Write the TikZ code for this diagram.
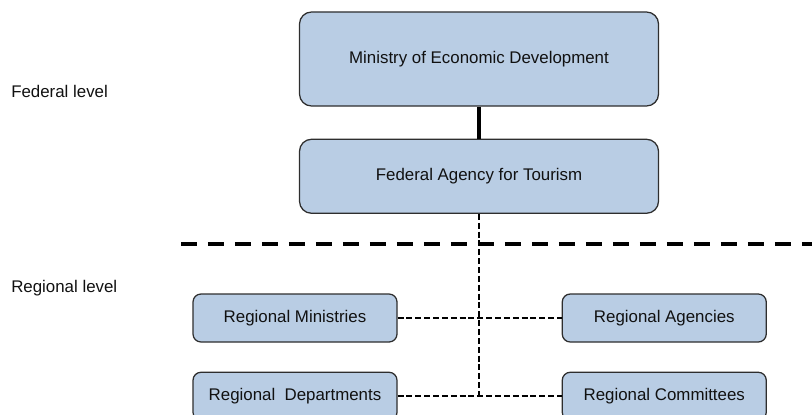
\documentclass[tikz,border=0pt]{standalone}
\usepackage{fontspec}
\setmainfont{Liberation Sans}
\usetikzlibrary{positioning,calc}
\definecolor{txt}{HTML}{111111}
\definecolor{boxF}{HTML}{B9CDE4}
\definecolor{boxB}{HTML}{2E2E2E}
\definecolor{lnB}{HTML}{000000}

\begin{document}
\begin{tikzpicture}[
  x=0.25mm,y=-0.25mm,
  font=\fontsize{12}{14}\selectfont,text=txt,
  org/.style={rounded corners=3mm,line width=0.9pt,fill=boxF,draw=boxB,align=center,inner sep=3pt,minimum width=89.75mm},
  reg/.style={org,rounded corners=2mm,minimum width=51mm,minimum height=12mm},
  lvl/.style={anchor=base west,inner sep=0pt},
  link/.style={draw=lnB,line width=1.2pt,dash pattern=on 4.2pt off 2.1pt},
  ]
\useasboundingbox (0,0) rectangle (812,414);

% ---- federal boxes ----
\node[org,minimum height=23.5mm] (min) at (479,59) {Ministry of Economic Development};
\node[org,minimum height=18.5mm,below=8mm of min] (fat) {Federal Agency for Tourism};

% ---- regional boxes ----
\node[reg] (rmin) at (295,318) {Regional Ministries};
\node[reg,right=41mm of rmin] (rag) {Regional Agencies};
\node[reg,below=7.25mm of rmin] (rdep) {Regional\ \ Departments};
\node[reg,below=7.25mm of rag] (rcom) {Regional Committees};

% ---- level labels ----
\node[lvl] (flv) at (11,97) {Federal level};
\node[lvl] (rlv) at (11,292) {Regional level};

% ---- divider ----
\coordinate (dl) at (181,244);
\coordinate (dr) at (812,244);
\draw[lnB,line width=2.6pt,dash pattern=on 11.3pt off 7.9pt] (dl) -- (dr);

% ---- links ----
\coordinate (jn) at (fat.south |- rdep.east);
\draw[lnB,line width=2.4pt] (min) -- (fat);
\draw[link] (fat) -- (jn);
\draw[link] (rmin) -- (rag);
\draw[link] (rdep) -- (jn) -- (rcom);

\end{tikzpicture}
\end{document}
